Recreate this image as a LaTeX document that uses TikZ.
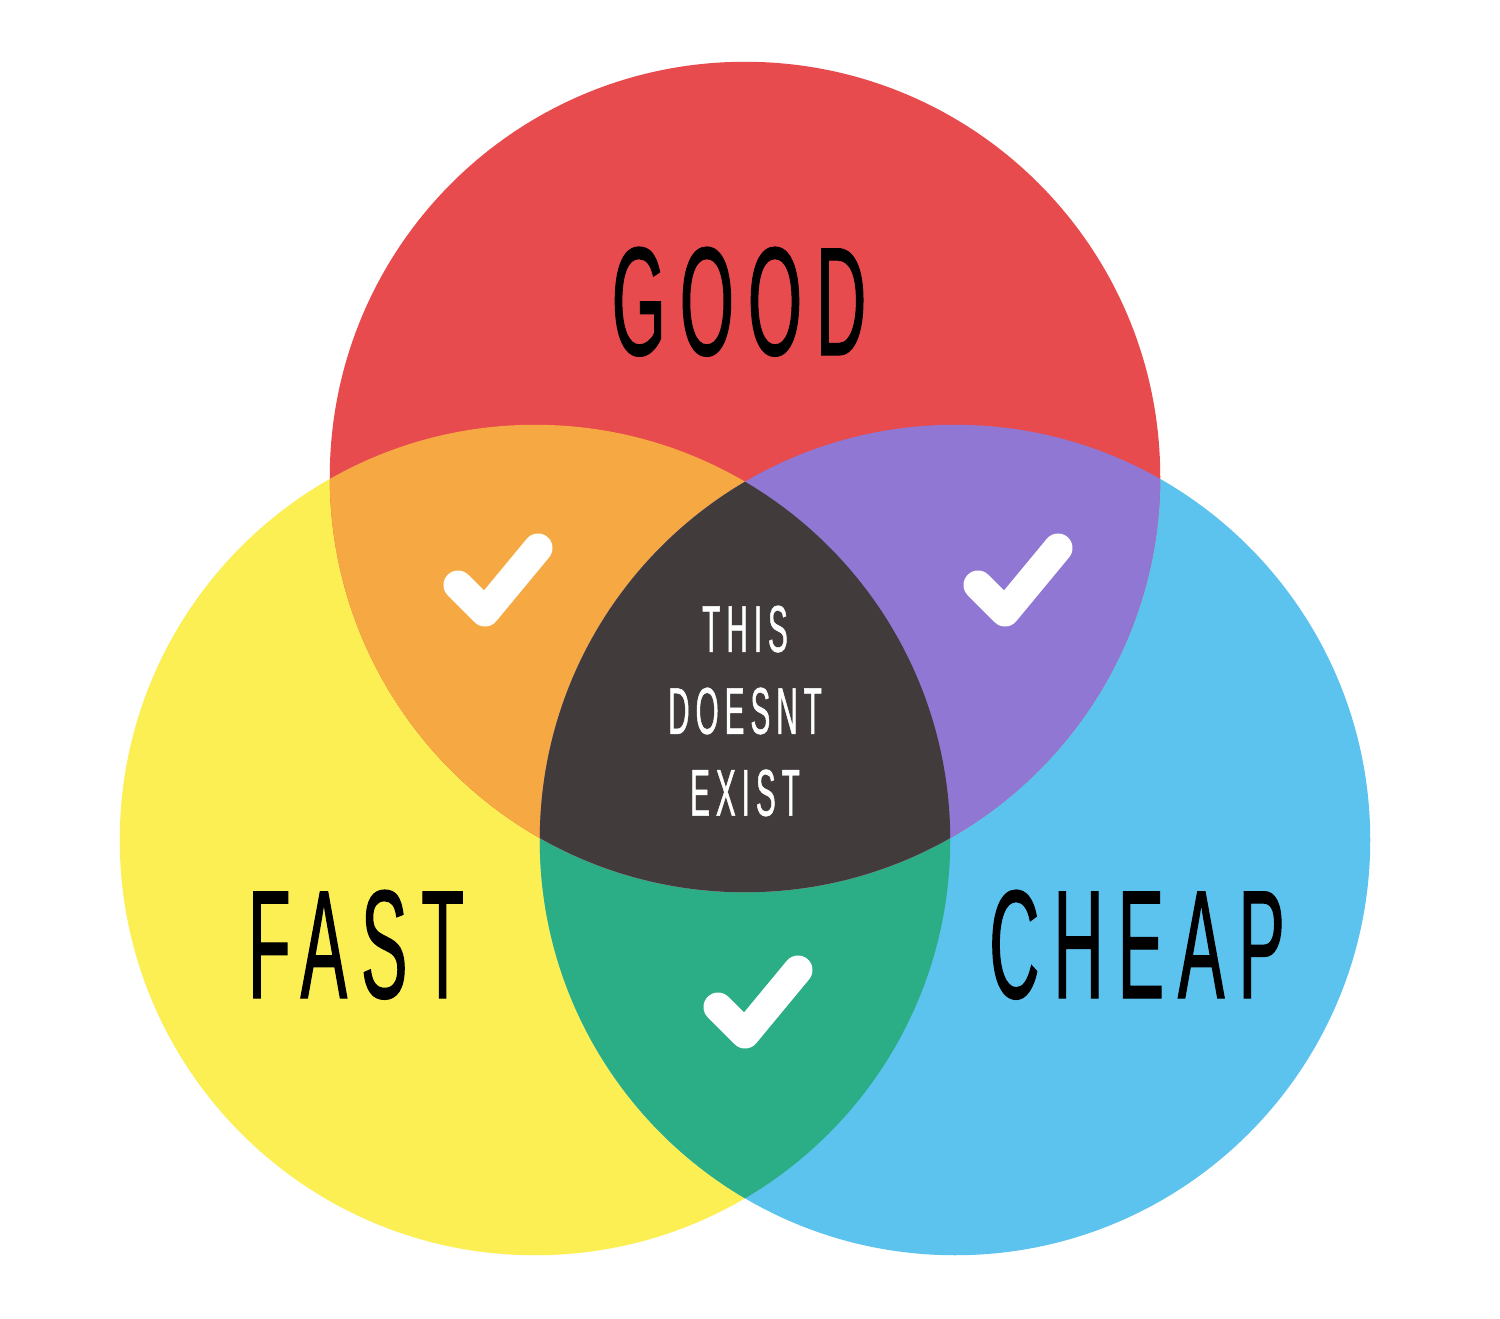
\documentclass[tikz,border=0pt]{standalone}
\usepackage{fontspec}
\newfontfamily\vennfont[FakeStretch=0.45,LetterSpace=9,FakeBold=0.7]{Liberation Sans}
\definecolor{goodred}{HTML}{E84B4D}
\definecolor{fastyellow}{HTML}{FBEF53}
\definecolor{cheapblue}{HTML}{5CC2EE}
\definecolor{goodfast}{HTML}{F6A942}
\definecolor{goodcheap}{HTML}{9077D4}
\definecolor{fastcheap}{HTML}{2BAD85}
\definecolor{allthree}{HTML}{413B3C}

\begin{document}
\begin{tikzpicture}[x=0.01cm, y=-0.01cm]
\tikzstyle{vennlbl}=[font=\vennfont\fontsize{44}{50}\selectfont, text=black, inner sep=0pt]
\tikzstyle{smalllbl}=[font=\vennfont\fontsize{18.8}{23.3}\selectfont, text=white, inner sep=0pt, align=center]
\tikzstyle{checkmark}=[draw=white, line width=0.29cm, line cap=round, line join=round]
\def\rad{4.15cm}

\useasboundingbox (0,0) rectangle (1500,1318);
\fill[white] (0,0) rectangle (1500,1318);

\coordinate (good)  at (745,477);
\coordinate (fast)  at (535,840);
\coordinate (cheap) at (955,840);

\fill[fastyellow] (fast)  circle[radius=\rad];
\fill[cheapblue]  (cheap) circle[radius=\rad];
\fill[goodred]    (good)  circle[radius=\rad];

% overlaps
\begin{scope}
  \clip (fast) circle[radius=\rad];
  \fill[fastcheap] (cheap) circle[radius=\rad];
\end{scope}
\begin{scope}
  \clip (good) circle[radius=\rad];
  \fill[goodfast]  (fast)  circle[radius=\rad];
  \fill[goodcheap] (cheap) circle[radius=\rad];
  \clip (fast) circle[radius=\rad];
  \fill[allthree]  (cheap) circle[radius=\rad];
\end{scope}

% checks
\foreach \x/\y in {458/585, 978/585, 718/1007}
  \draw[checkmark] (\x,\y) -- ++(27,27) -- ++(53,-64);

\node[vennlbl, anchor=base] (goodlbl)  at (739,355)  {GOOD};
\node[vennlbl, anchor=base] (fastlbl)  at (356,998)  {FAST};
\node[vennlbl, anchor=base] (cheaplbl) at (1137,998) {CHEAP};
\node[smalllbl]             (nonelbl)  at (745,711)  {THIS\\DOESNT\\EXIST};

\end{tikzpicture}
\end{document}
